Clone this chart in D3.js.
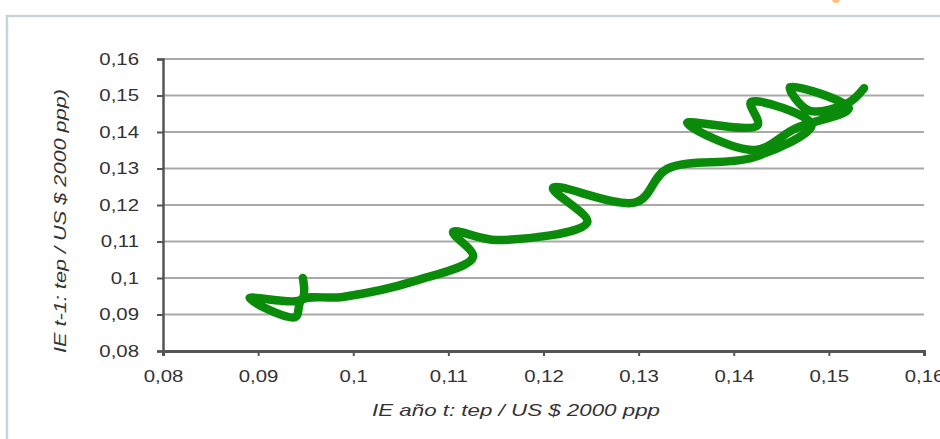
<!DOCTYPE html>
<html>
<head>
<meta charset="utf-8">
<script src="https://cdn.jsdelivr.net/npm/d3@7"></script>
<style>
  html, body { margin: 0; padding: 0; background: #fff; }
  svg { display: block; }
  text { font-family: "Liberation Sans", Arial, sans-serif; fill: #333; }
</style>
</head>
<body>
<svg id="chart" width="940" height="439"></svg>
<script>
// Energy intensity: year t against year t-1 (toe per US$ 2000 PPP)
const ieYearT  = [0.0947, 0.0946, 0.0891, 0.0939, 0.0946, 0.0989, 0.1065, 0.1126, 0.1105, 0.1151,
                  0.1246, 0.1210, 0.1298, 0.1330, 0.1420, 0.1482, 0.1418, 0.1425, 0.1351, 0.1422,
                  0.1465, 0.1521, 0.1459, 0.1479, 0.1520, 0.1537];
const ieYearT1 = [0.1000, 0.0942, 0.0945, 0.0893, 0.0940, 0.0948, 0.0992, 0.1058, 0.1126, 0.1104,
                  0.1153, 0.1247, 0.1208, 0.1299, 0.1330, 0.1420, 0.1482, 0.1418, 0.1425, 0.1351,
                  0.1410, 0.1465, 0.1523, 0.1459, 0.1479, 0.1520];
const xTicks = [0.08, 0.09, 0.10, 0.11, 0.12, 0.13, 0.14, 0.15, 0.16];
const yTicks = [0.08, 0.09, 0.10, 0.11, 0.12, 0.13, 0.14, 0.15, 0.16];
const xTitle = "IE año t: tep / US $ 2000 ppp";
const yTitle = "IE t-1: tep / US $ 2000 ppp)";

const points = ieYearT.map((x, i) => ({ x, y: ieYearT1[i] }));

const svg = d3.select("#chart");
const plot = { left: 163, right: 924, top: 59, bottom: 351 };

// panel frame
svg.append("rect")
  .attr("x", 7).attr("y", 16)
  .attr("width", 960).attr("height", 460)
  .attr("fill", "#fff")
  .attr("stroke", "#c6d5dc").attr("stroke-width", 2.5);

// small orange mark above the frame
svg.append("circle")
  .attr("cx", 836).attr("cy", -1).attr("r", 4)
  .attr("fill", "#fbc17d");

const x = d3.scaleLinear().domain([0.08, 0.16]).range([plot.left, plot.right]);
const y = d3.scaleLinear().domain([0.08, 0.16]).range([plot.bottom, plot.top]);
const fmt = v => d3.format(".2~f")(v).replace(".", ",");

// horizontal gridlines
svg.append("g")
  .selectAll("line")
  .data(yTicks.filter(v => v > 0.08))
  .join("line")
  .attr("x1", plot.left).attr("x2", plot.right)
  .attr("y1", d => y(d)).attr("y2", d => y(d))
  .attr("stroke", "#a9a9a9").attr("stroke-width", 2);

// y axis
const gy = svg.append("g")
  .attr("transform", `translate(${plot.left},0)`)
  .call(d3.axisLeft(y).tickValues(yTicks).tickFormat(fmt).tickSize(6).tickPadding(14));
gy.select(".domain").attr("stroke", "#555").attr("stroke-width", 2.5);
gy.selectAll(".tick line").attr("stroke", "#555").attr("stroke-width", 2);
gy.selectAll(".tick text")
  .attr("font-size", 17)
  .attr("transform", "scale(1.2,1)")
  .attr("fill", "#333");

// x axis
const gx = svg.append("g")
  .attr("transform", `translate(0,${plot.bottom})`)
  .call(d3.axisBottom(x).tickValues(xTicks).tickFormat(fmt).tickSize(5).tickPadding(14));
gx.select(".domain").attr("stroke", "#555").attr("stroke-width", 3);
gx.selectAll(".tick line").attr("stroke", "#555").attr("stroke-width", 2);
gx.selectAll(".tick text")
  .attr("font-size", 17)
  .attr("fill", "#333")
  .attr("transform", "scale(1.2,1)");

// axis titles
svg.append("text")
  .attr("x", 516).attr("y", 416)
  .attr("text-anchor", "middle")
  .attr("font-size", 17).attr("font-style", "italic")
  .attr("textLength", 288).attr("lengthAdjust", "spacingAndGlyphs")
  .text(xTitle);

svg.append("text")
  .attr("transform", "translate(66,221) rotate(-90)")
  .attr("text-anchor", "middle")
  .attr("font-size", 17).attr("font-style", "italic")
  .attr("textLength", 264).attr("lengthAdjust", "spacingAndGlyphs")
  .text(yTitle);

// trajectory
const line = d3.line()
  .x(d => x(d.x)).y(d => y(d.y))
  .curve(d3.curveCatmullRom.alpha(0.5));

svg.append("path")
  .datum(points)
  .attr("d", line)
  .attr("fill", "none")
  .attr("stroke", "#0a8c0a")
  .attr("stroke-width", 8.5)
  .attr("stroke-linecap", "round")
  .attr("stroke-linejoin", "round");
</script>
</body>
</html>
